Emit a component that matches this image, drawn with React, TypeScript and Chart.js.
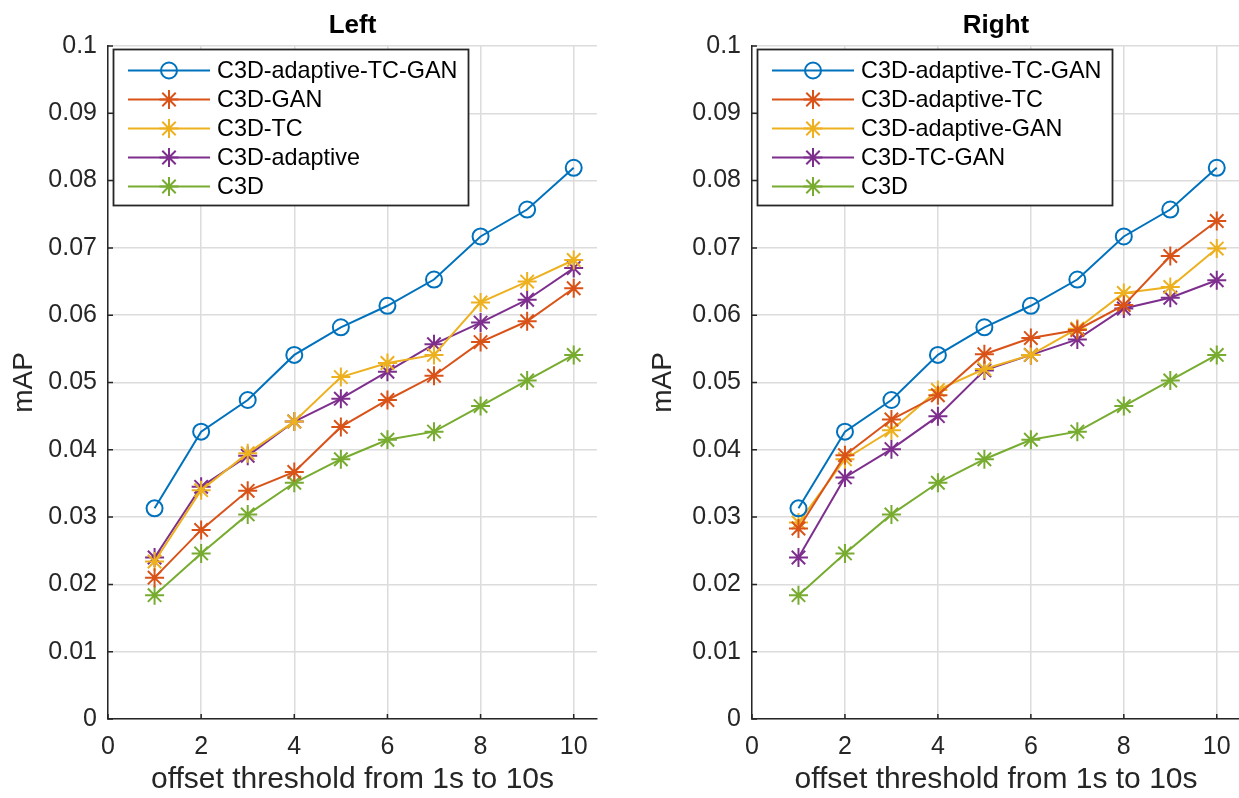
import React, { useEffect, useRef } from 'react';
import { Chart, registerables } from 'chart.js';

Chart.register(...registerables);

const FONT = "'Liberation Sans', Arial, Helvetica, sans-serif";
const TEXT = '#262626';
const GRID = '#dcdcdc';

const xValues = [1, 2, 3, 4, 5, 6, 7, 8, 9, 10];
const xTicks = [0, 2, 4, 6, 8, 10];
const yTicks = [0, 0.01, 0.02, 0.03, 0.04, 0.05, 0.06, 0.07, 0.08, 0.09, 0.1];
const yTickLabels = ['0', '0.01', '0.02', '0.03', '0.04', '0.05', '0.06', '0.07', '0.08', '0.09', '0.1'];
const xAxisLabel = 'offset threshold from 1s to 10s';
const yAxisLabel = 'mAP';

const leftTitle = 'Left';
const leftNames = ['C3D-adaptive-TC-GAN', 'C3D-GAN', 'C3D-TC', 'C3D-adaptive', 'C3D'];
const leftAdaptiveTcGan = [0.0313, 0.0427, 0.0474, 0.0541, 0.0582, 0.0614, 0.0653, 0.0717, 0.0757, 0.0819];
const leftGan = [0.021, 0.0281, 0.0339, 0.0367, 0.0434, 0.0474, 0.051, 0.056, 0.0591, 0.064];
const leftTc = [0.0234, 0.034, 0.0395, 0.0442, 0.0508, 0.0529, 0.0541, 0.0619, 0.065, 0.0682];
const leftAdaptive = [0.024, 0.0345, 0.0391, 0.0442, 0.0476, 0.0516, 0.0557, 0.0589, 0.0623, 0.067];
const leftC3d = [0.0184, 0.0246, 0.0304, 0.0351, 0.0386, 0.0415, 0.0427, 0.0465, 0.0503, 0.0541];

const rightTitle = 'Right';
const rightNames = ['C3D-adaptive-TC-GAN', 'C3D-adaptive-TC', 'C3D-adaptive-GAN', 'C3D-TC-GAN', 'C3D'];
const rightAdaptiveTcGan = [0.0313, 0.0427, 0.0474, 0.0541, 0.0582, 0.0614, 0.0653, 0.0717, 0.0757, 0.0819];
const rightAdaptiveTc = [0.0283, 0.0392, 0.0445, 0.0481, 0.0542, 0.0566, 0.0578, 0.0615, 0.0688, 0.074];
const rightAdaptiveGan = [0.0292, 0.0386, 0.0429, 0.0489, 0.052, 0.0541, 0.058, 0.0633, 0.0642, 0.0699];
const rightTcGan = [0.024, 0.0359, 0.0401, 0.045, 0.0518, 0.0541, 0.0564, 0.061, 0.0626, 0.0652];
const rightC3d = [0.0184, 0.0246, 0.0304, 0.0351, 0.0386, 0.0415, 0.0427, 0.0465, 0.0503, 0.0541];

const seriesColors = ['#0072BD', '#D95319', '#EDB120', '#7E2F8E', '#77AC30'];
const seriesMarkers = ['circle', 'star', 'star', 'star', 'star'];
const markerRadius: Record<string, number> = { circle: 8, star: 9.5 };

function drawMarker(ctx: CanvasRenderingContext2D, style: string, x: number, y: number, r: number) {
  ctx.beginPath();
  if (style === 'circle') {
    ctx.arc(x, y, r, 0, Math.PI * 2);
  } else {
    for (let k = 0; k < 4; k++) {
      const a = (k * Math.PI) / 4;
      const dx = Math.cos(a) * r;
      const dy = Math.sin(a) * r;
      ctx.moveTo(x - dx, y - dy);
      ctx.lineTo(x + dx, y + dy);
    }
  }
  ctx.stroke();
}

const legendPlugin = {
  id: 'matlabLegend',
  afterDatasetsDraw(chart: any) {
    const ctx: CanvasRenderingContext2D = chart.ctx;
    const bx = 113.5, by = 49.5, bw = 355, bh = 156;
    ctx.save();
    ctx.fillStyle = '#ffffff';
    ctx.fillRect(bx, by, bw, bh);
    ctx.strokeStyle = TEXT;
    ctx.lineWidth = 1.8;
    ctx.strokeRect(bx, by, bw, bh);
    chart.data.datasets.forEach((ds: any, i: number) => {
      const y = 70.5 + i * 29;
      ctx.strokeStyle = ds.borderColor;
      ctx.lineWidth = ds.borderWidth;
      ctx.beginPath();
      ctx.moveTo(128, y);
      ctx.lineTo(210, y);
      ctx.stroke();
      drawMarker(ctx, ds.pointStyle, 169, y, ds.pointRadius);
      ctx.fillStyle = '#000000';
      ctx.font = `23.4px ${FONT}`;
      ctx.textAlign = 'left';
      ctx.textBaseline = 'middle';
      ctx.fillText(ds.label, 217, y + 1);
    });
    ctx.restore();
  },
};

const tickPlugin = {
  id: 'inwardTicks',
  beforeDatasetsDraw(chart: any) {
    const ctx: CanvasRenderingContext2D = chart.ctx;
    const { left, bottom } = chart.chartArea;
    const xs = chart.scales.x;
    const ys = chart.scales.y;
    ctx.save();
    ctx.strokeStyle = TEXT;
    ctx.lineWidth = 1.5;
    ctx.beginPath();
    yTicks.forEach((v) => {
      const py = ys.getPixelForValue(v);
      ctx.moveTo(left, py);
      ctx.lineTo(left + 5, py);
    });
    xTicks.forEach((v) => {
      const px = xs.getPixelForValue(v);
      ctx.moveTo(px, bottom);
      ctx.lineTo(px, bottom - 5);
    });
    ctx.stroke();
    ctx.restore();
  },
};

function makeConfig(title: string, names: string[], series: number[][], padRight: number, yTitlePad: number): any {
  return {
    type: 'line',
    data: {
      datasets: series.map((vals, i) => ({
        label: names[i],
        data: xValues.map((x, j) => ({ x, y: vals[j] })),
        borderColor: seriesColors[i],
        backgroundColor: seriesColors[i],
        borderWidth: 2,
        pointStyle: seriesMarkers[i],
        pointRadius: markerRadius[seriesMarkers[i]],
        pointHoverRadius: markerRadius[seriesMarkers[i]],
        pointBorderWidth: 2,
        pointBorderColor: seriesColors[i],
        pointBackgroundColor: 'rgba(0,0,0,0)',
        tension: 0,
        fill: false,
      })),
    },
    options: {
      responsive: false,
      animation: false,
      devicePixelRatio: 1,
      layout: { padding: { left: 0, right: padRight, top: 0, bottom: 0 } },
      plugins: {
        legend: { display: false },
        tooltip: { enabled: false },
        title: {
          display: true,
          text: title,
          fullSize: false,
          color: '#000000',
          font: { family: FONT, size: 26, weight: 'bold' },
          padding: { top: 10, bottom: 4.8 },
        },
      },
      scales: {
        x: {
          type: 'linear',
          min: 0,
          max: 10.5,
          afterBuildTicks: (s: any) => {
            s.ticks = xTicks.map((v) => ({ value: v }));
          },
          afterFit: (s: any) => {
            s.height = 79;
          },
          grid: { color: GRID, lineWidth: 1.5, drawTicks: false },
          border: { color: TEXT, width: 1.5 },
          ticks: {
            color: TEXT,
            font: { family: FONT, size: 25 },
            padding: 13,
            maxRotation: 0,
            autoSkip: false,
            callback: (v: any) => String(v),
          },
          title: {
            display: true,
            text: xAxisLabel,
            color: TEXT,
            font: { family: FONT, size: 30 },
            padding: { top: 0, bottom: 0 },
          },
        },
        y: {
          type: 'linear',
          min: 0,
          max: 0.1,
          afterBuildTicks: (s: any) => {
            s.ticks = yTicks.map((v) => ({ value: v }));
          },
          afterFit: (s: any) => {
            s.width = 108;
          },
          grid: { color: GRID, lineWidth: 1.5, drawTicks: false },
          border: { color: TEXT, width: 1.5 },
          ticks: {
            color: TEXT,
            font: { family: FONT, size: 25 },
            padding: 11,
            autoSkip: false,
            callback: (_v: any, i: number) => yTickLabels[i],
          },
          title: {
            display: true,
            text: yAxisLabel,
            color: TEXT,
            font: { family: FONT, size: 28 },
            padding: { top: yTitlePad, bottom: 0 },
          },
        },
      },
    },
    plugins: [tickPlugin, legendPlugin],
  };
}

export default function App() {
  const leftRef = useRef<HTMLCanvasElement | null>(null);
  const rightRef = useRef<HTMLCanvasElement | null>(null);

  useEffect(() => {
    const charts: Chart[] = [];
    if (leftRef.current) {
      charts.push(
        new Chart(
          leftRef.current,
          makeConfig(leftTitle, leftNames, [leftAdaptiveTcGan, leftGan, leftTc, leftAdaptive, leftC3d], 23, 7)
        )
      );
    }
    if (rightRef.current) {
      charts.push(
        new Chart(
          rightRef.current,
          makeConfig(
            rightTitle,
            rightNames,
            [rightAdaptiveTcGan, rightAdaptiveTc, rightAdaptiveGan, rightTcGan, rightC3d],
            24,
            2
          )
        )
      );
    }
    return () => charts.forEach((c) => c.destroy());
  }, []);

  return (
    <div style={{ position: 'absolute', left: 0, top: 0, width: 1239, height: 798, background: '#ffffff', overflow: 'hidden' }}>
      <canvas ref={leftRef} width={620} height={798} style={{ position: 'absolute', left: 0, top: 0, width: 620, height: 798 }} />
      <canvas ref={rightRef} width={620} height={798} style={{ position: 'absolute', left: 644, top: 0, width: 620, height: 798 }} />
    </div>
  );
}
